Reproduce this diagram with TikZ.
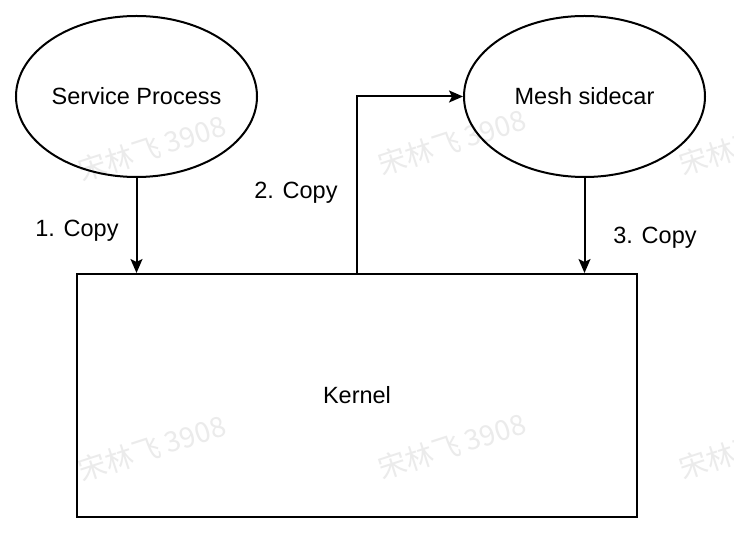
\documentclass[tikz,border=0pt]{standalone}
\usepackage{fontspec}
\setmainfont{Liberation Sans}
\newfontfamily\cjk{Noto Sans CJK SC}
\usetikzlibrary{arrows.meta,shapes.geometric}
\definecolor{wm}{HTML}{EBEBEB}
\begin{document}
\begin{tikzpicture}[x=1pt,y=-1pt,
  every node/.style={font=\fontsize{23.5}{28}\selectfont},
  proc/.style={ellipse, draw, line width=2pt, minimum width=241pt, minimum height=161pt, inner sep=0pt},
  box/.style={draw, line width=2pt, minimum width=560pt, minimum height=243pt, inner sep=0pt},
  flow/.style={line width=2pt, -{Stealth[length=14pt,width=12pt,inset=3pt]}},
  lbl/.style={anchor=base},
  wmark/.style={font=\cjk\fontsize{28}{30}\selectfont, text=wm, rotate=18}]
\useasboundingbox (0,0) rectangle (734,534);
\fill[white] (0,0) rectangle (734,534);
% watermarks
\node[wmark] (w1) at (152,148) {宋林飞 3908};
\node[wmark] (w2) at (452,142) {宋林飞 3908};
\node[wmark] (w3) at (753,142) {宋林飞 3908};
\node[wmark] (w4) at (152,448) {宋林飞 3908};
\node[wmark] (w5) at (452,446) {宋林飞 3908};
\node[wmark] (w6) at (753,446) {宋林飞 3908};
% nodes
\node[proc] (sp) at (136.5,96.5) {Service Process};
\node[proc] (ms) at (584.5,96.5) {Mesh sidecar};
\node[box] (k) at (357,395.5) {Kernel};
% connectors
\draw[flow] (sp.south) -- (sp.south |- k.north);
\draw[flow] (k.north) |- (ms.west);
\draw[flow] (ms.south) -- (ms.south |- k.north);
% labels
\node[lbl] (l1) at (77,237) {1. Copy};
\node[lbl] (l2) at (296,199) {2. Copy};
\node[lbl] (l3) at (655,244) {3. Copy};
\end{tikzpicture}
\end{document}
